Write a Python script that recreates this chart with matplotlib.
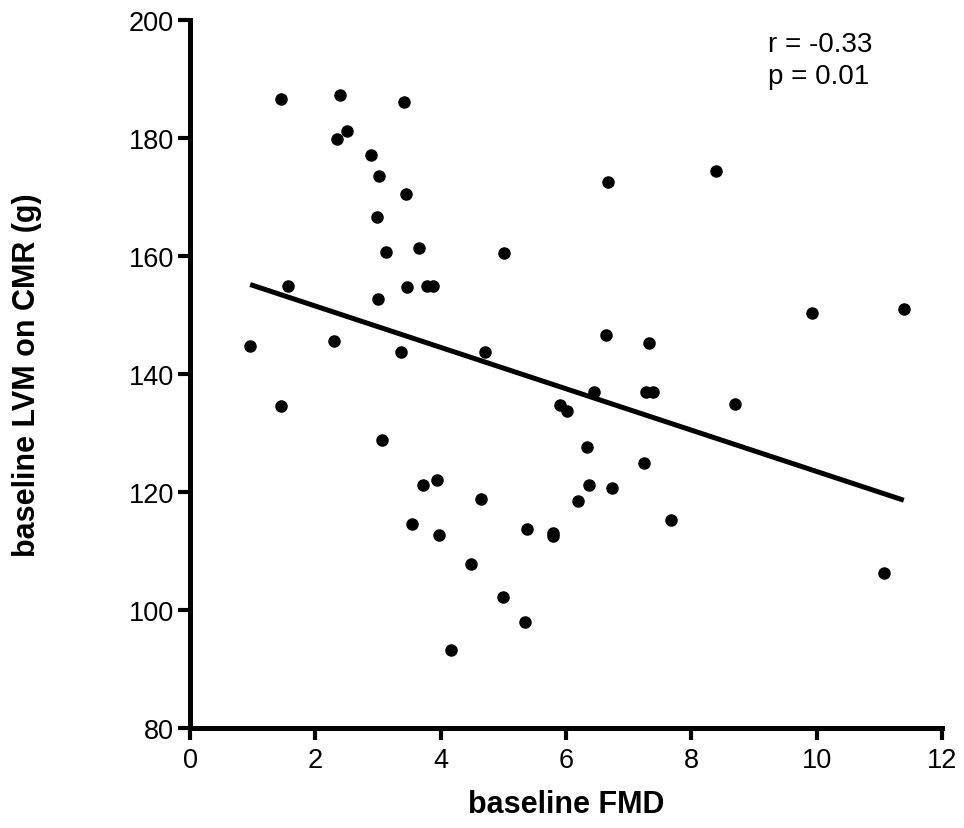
import numpy as np
import matplotlib
matplotlib.use("Agg")
import matplotlib.pyplot as plt

# --- data ---
fmd = [0.96, 1.46, 1.46, 1.56, 2.30, 2.34, 2.39, 2.51, 2.89, 2.99,
       3.00, 3.01, 3.06, 3.13, 3.37, 3.41, 3.44, 3.46, 3.55, 3.65,
       3.71, 3.78, 3.87, 3.94, 3.98, 4.17, 4.49, 4.65, 4.70, 5.00,
       5.01, 5.34, 5.38, 5.80, 5.80, 5.91, 6.01, 6.19, 6.34, 6.37,
       6.44, 6.64, 6.67, 6.74, 7.24, 7.27, 7.33, 7.39, 7.67, 8.40,
       8.69, 9.92, 11.07, 11.39]
lvm = [144.8, 186.7, 134.5, 155.0, 145.6, 179.8, 187.3, 181.2, 177.1, 166.6,
       152.8, 173.5, 128.9, 160.7, 143.8, 186.1, 170.6, 154.7, 114.5, 161.4,
       121.2, 155.0, 155.0, 122.0, 112.8, 93.3, 107.8, 118.9, 143.7, 102.2,
       160.6, 97.9, 113.8, 113.0, 112.6, 134.8, 133.7, 118.5, 127.7, 121.2,
       136.9, 146.7, 172.5, 120.6, 125.0, 136.9, 145.2, 136.9, 115.3, 174.4,
       134.9, 150.3, 106.3, 151.0]
stats_text = "r = -0.33\np = 0.01"

x_ticks = [0, 2, 4, 6, 8, 10, 12]
y_ticks = [80, 100, 120, 140, 160, 180, 200]

fig = plt.figure(figsize=(9.64, 8.29), dpi=100)
ax = fig.add_axes([0.1971, 0.1206, 0.7801, 0.854])

ax.plot(fmd, lvm, 'o', color='black', markersize=8, zorder=3)

# least squares line over the data range
slope, icpt = np.polyfit(fmd, lvm, 1)
xs = np.array([min(fmd), max(fmd)])
ax.plot(xs, slope * xs + icpt, color='black', linewidth=3.6, solid_capstyle='butt')

ax.set_xlim(0, 12)
ax.set_ylim(80, 200)
ax.set_xticks(x_ticks)
ax.set_yticks(y_ticks)

for side in ['top', 'right']:
    ax.spines[side].set_visible(False)
for side in ['left', 'bottom']:
    ax.spines[side].set_linewidth(3.6)
ax.tick_params(width=3, length=8.5, direction='out')
ax.tick_params(axis='y', pad=3)
ax.tick_params(axis='x', pad=5)

for lbl in ax.get_xticklabels() + ax.get_yticklabels():
    lbl.set_family(['Liberation Sans', 'DejaVu Sans'])
    lbl.set_fontsize(19.5)

lab_font = dict(family=['Liberation Sans', 'DejaVu Sans'],
                fontsize=22, fontweight='bold')
ax.set_xlabel('baseline FMD', labelpad=12, **lab_font)
ax.set_ylabel('baseline LVM on CMR (g)', **lab_font)
ax.yaxis.set_label_coords(-0.197, 0.5)

ax.text(0.769, 0.985, stats_text, transform=ax.transAxes, ha='left', va='top',
        fontsize=20, family=['Liberation Sans', 'DejaVu Sans'], linespacing=1.3)

fig.savefig('out.png', dpi=100)
